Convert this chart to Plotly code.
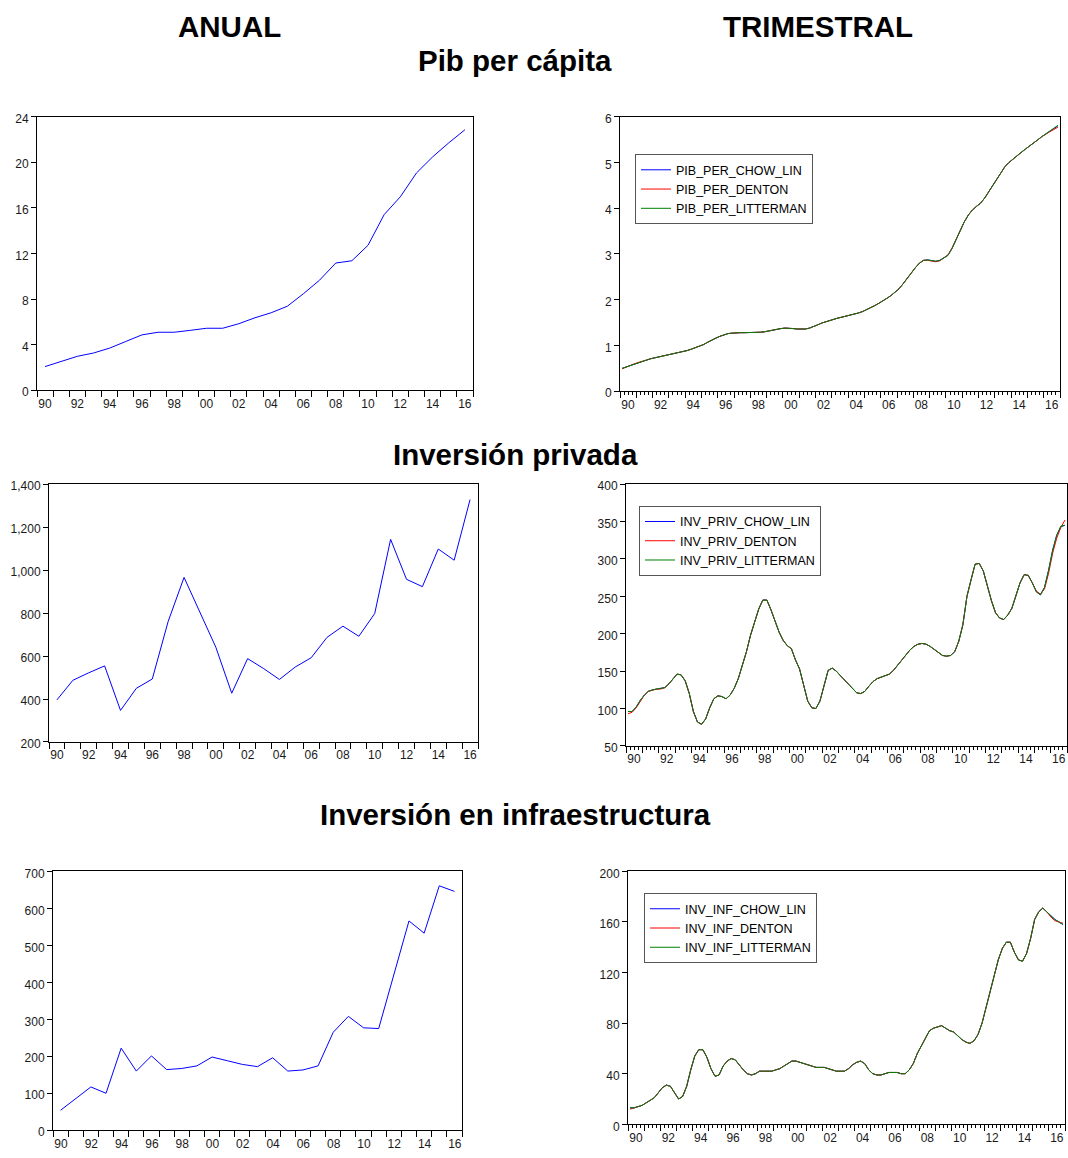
import plotly.graph_objects as go

# ---------------------------------------------------------------------------
# Data
# ---------------------------------------------------------------------------
YEARS = list(range(1990, 2017))
YEAR_LABELS = ["90", "92", "94", "96", "98", "00", "02", "04", "06", "08",
               "10", "12", "14", "16"]
LABELLED_YEARS = [1990, 1992, 1994, 1996, 1998, 2000, 2002, 2004, 2006,
                  2008, 2010, 2012, 2014, 2016]

# Annual series
PIB_ANUAL = [2.08, 2.54, 2.98, 3.27, 3.70, 4.28, 4.86, 5.09, 5.09, 5.26,
             5.44, 5.44, 5.84, 6.36, 6.80, 7.37, 8.47, 9.66, 11.16, 11.36,
             12.72, 15.41, 16.97, 19.06, 20.47, 21.70, 22.85]
INV_PRIV_ANUAL = [396, 487, 522, 554, 347, 450, 493, 761, 966, 800,
                  641, 427, 588, 542, 491, 549, 592, 687, 739, 692,
                  798, 1143, 957, 923, 1098, 1046, 1328]
INV_INF_ANUAL = [54, 85, 117, 100, 222, 160, 201, 164, 167, 174,
                 198, 188, 178, 172, 196, 160, 163, 174, 265, 308,
                 277, 275, 419, 566, 533, 661, 646]

# Quarterly series (1990Q1 - 2016Q4)
PIB_PER_CHOW_LIN = [
    0.50, 0.53, 0.57, 0.60, 0.63, 0.66, 0.69, 0.71, 0.73, 0.75, 0.77, 0.78,
    0.80, 0.82, 0.84, 0.86, 0.89, 0.92, 0.95, 0.98, 1.02, 1.07, 1.12, 1.16,
    1.20, 1.23, 1.26, 1.27, 1.28, 1.28, 1.28, 1.28, 1.28, 1.28, 1.29, 1.30,
    1.32, 1.34, 1.36, 1.37, 1.38, 1.38, 1.37, 1.36, 1.36, 1.36, 1.38, 1.41,
    1.45, 1.49, 1.52, 1.55, 1.58, 1.60, 1.62, 1.64, 1.66, 1.69, 1.71, 1.74,
    1.78, 1.82, 1.87, 1.92, 1.97, 2.03, 2.09, 2.16, 2.24, 2.35, 2.47, 2.60,
    2.70, 2.80, 2.86, 2.87, 2.85, 2.84, 2.86, 2.91, 2.97, 3.12, 3.32, 3.52,
    3.70, 3.85, 3.96, 4.04, 4.11, 4.22, 4.36, 4.51, 4.65, 4.79, 4.91, 5.00,
    5.08, 5.15, 5.22, 5.29, 5.35, 5.42, 5.49, 5.56, 5.62, 5.68, 5.74, 5.80]
PIB_PER_DENTON = [
    0.49, 0.53, 0.57, 0.60, 0.63, 0.66, 0.69, 0.71, 0.73, 0.75, 0.77, 0.78,
    0.80, 0.82, 0.84, 0.86, 0.89, 0.92, 0.95, 0.98, 1.02, 1.07, 1.12, 1.16,
    1.20, 1.23, 1.26, 1.27, 1.28, 1.28, 1.28, 1.28, 1.28, 1.28, 1.29, 1.30,
    1.32, 1.34, 1.36, 1.37, 1.38, 1.38, 1.37, 1.36, 1.36, 1.36, 1.38, 1.41,
    1.45, 1.49, 1.52, 1.55, 1.58, 1.60, 1.62, 1.64, 1.66, 1.69, 1.71, 1.74,
    1.78, 1.82, 1.87, 1.92, 1.97, 2.03, 2.09, 2.16, 2.24, 2.35, 2.47, 2.60,
    2.70, 2.80, 2.86, 2.86, 2.84, 2.83, 2.85, 2.91, 2.98, 3.13, 3.32, 3.52,
    3.70, 3.85, 3.96, 4.04, 4.11, 4.22, 4.36, 4.51, 4.65, 4.79, 4.91, 5.00,
    5.08, 5.15, 5.22, 5.29, 5.35, 5.42, 5.49, 5.56, 5.62, 5.67, 5.72, 5.77]
PIB_PER_LITTERMAN = [
    0.50, 0.53, 0.57, 0.60, 0.63, 0.66, 0.69, 0.71, 0.73, 0.75, 0.77, 0.78,
    0.80, 0.82, 0.84, 0.86, 0.89, 0.92, 0.95, 0.98, 1.02, 1.07, 1.12, 1.16,
    1.20, 1.23, 1.26, 1.27, 1.28, 1.28, 1.28, 1.28, 1.28, 1.28, 1.29, 1.30,
    1.32, 1.34, 1.36, 1.37, 1.38, 1.38, 1.37, 1.36, 1.36, 1.36, 1.38, 1.41,
    1.45, 1.49, 1.52, 1.55, 1.58, 1.60, 1.62, 1.64, 1.66, 1.69, 1.71, 1.74,
    1.78, 1.82, 1.87, 1.92, 1.97, 2.03, 2.09, 2.16, 2.24, 2.35, 2.47, 2.60,
    2.70, 2.80, 2.86, 2.87, 2.85, 2.84, 2.86, 2.91, 2.97, 3.12, 3.32, 3.52,
    3.70, 3.85, 3.96, 4.04, 4.11, 4.22, 4.36, 4.51, 4.65, 4.79, 4.91, 5.00,
    5.08, 5.15, 5.22, 5.29, 5.35, 5.42, 5.49, 5.56, 5.62, 5.68, 5.75, 5.81]

INV_PRIV_CHOW_LIN = [
    96, 96, 102, 111, 118, 123, 125, 126, 126, 128, 133, 140,
    146, 145, 137, 120, 96, 82, 79, 86, 101, 113, 117, 116,
    113, 118, 127, 140, 158, 176, 198, 214, 233, 245, 245, 232,
    216, 202, 191, 184, 180, 165, 153, 130, 110, 101, 100, 110,
    132, 151, 154, 150, 144, 138, 132, 126, 121, 120, 123, 130,
    136, 140, 142, 143, 146, 151, 158, 165, 172, 178, 183, 186,
    187, 186, 183, 179, 174, 171, 170, 171, 176, 190, 212, 250,
    272, 293, 294, 284, 264, 244, 228, 221, 219, 225, 234, 252,
    268, 279, 278, 268, 256, 252, 262, 285, 312, 332, 343, 345]
INV_PRIV_DENTON = [
    93, 95, 101, 110, 118, 123, 125, 126, 126, 128, 133, 140,
    146, 145, 137, 120, 96, 82, 79, 86, 101, 113, 117, 116,
    113, 118, 127, 140, 158, 176, 198, 214, 233, 245, 245, 232,
    216, 202, 191, 184, 180, 165, 153, 130, 110, 101, 100, 110,
    132, 151, 154, 150, 144, 138, 132, 126, 121, 120, 123, 130,
    136, 140, 142, 143, 146, 151, 158, 165, 172, 178, 183, 186,
    187, 186, 183, 179, 174, 171, 170, 171, 176, 190, 212, 250,
    272, 293, 294, 284, 264, 244, 228, 221, 219, 225, 234, 252,
    268, 279, 278, 268, 257, 253, 260, 281, 308, 328, 342, 352]
INV_PRIV_LITTERMAN = [
    96, 96, 102, 111, 118, 123, 125, 126, 126, 128, 133, 140,
    146, 145, 137, 120, 96, 82, 79, 86, 101, 113, 117, 116,
    113, 118, 127, 140, 158, 176, 198, 214, 233, 245, 245, 232,
    216, 202, 191, 184, 180, 165, 153, 130, 110, 101, 100, 110,
    132, 151, 154, 150, 144, 138, 132, 126, 121, 120, 123, 130,
    136, 140, 142, 143, 146, 151, 158, 165, 172, 178, 183, 186,
    187, 186, 183, 179, 174, 171, 170, 171, 176, 190, 212, 250,
    272, 293, 294, 284, 264, 244, 228, 221, 219, 225, 234, 252,
    268, 279, 278, 268, 256, 252, 262, 285, 312, 332, 344, 345]

INV_INF_CHOW_LIN = [
    13, 13, 14, 15, 17, 19, 21, 25, 29, 31, 30, 25,
    20, 22, 30, 43, 54, 59, 59, 53, 44, 38, 39, 46,
    50, 52, 51, 47, 43, 40, 39, 40, 42, 42, 42, 42,
    43, 44, 46, 48, 50, 50, 49, 48, 47, 46, 45, 45,
    45, 44, 43, 42, 42, 42, 44, 47, 49, 50, 48, 43,
    40, 39, 39, 40, 41, 41, 41, 40, 40, 43, 48, 56,
    62, 69, 74, 76, 77, 78, 76, 74, 73, 70, 67, 65,
    64, 66, 71, 80, 92, 104, 118, 130, 139, 144, 144, 136,
    130, 129, 135, 147, 162, 168, 171, 168, 165, 162, 160, 158]
INV_INF_DENTON = [
    12, 13, 14, 15, 17, 19, 21, 25, 29, 31, 30, 25,
    20, 22, 30, 43, 54, 59, 59, 53, 44, 38, 39, 46,
    50, 52, 51, 47, 43, 40, 39, 40, 42, 42, 42, 42,
    43, 44, 46, 48, 50, 50, 49, 48, 47, 46, 45, 45,
    45, 44, 43, 42, 42, 42, 44, 47, 49, 50, 48, 43,
    40, 39, 39, 40, 41, 41, 41, 40, 40, 43, 48, 56,
    62, 69, 74, 76, 77, 78, 76, 74, 73, 70, 67, 65,
    64, 66, 71, 80, 92, 104, 118, 130, 139, 144, 144, 136,
    130, 129, 135, 147, 162, 168, 171, 168, 164, 161, 160, 159]
INV_INF_LITTERMAN = [
    13, 13, 14, 15, 17, 19, 21, 25, 29, 31, 30, 25,
    20, 22, 30, 43, 54, 59, 59, 53, 44, 38, 39, 46,
    50, 52, 51, 47, 43, 40, 39, 40, 42, 42, 42, 42,
    43, 44, 46, 48, 50, 50, 49, 48, 47, 46, 45, 45,
    45, 44, 43, 42, 42, 42, 44, 47, 49, 50, 48, 43,
    40, 39, 39, 40, 41, 41, 41, 40, 40, 43, 48, 56,
    62, 69, 74, 76, 77, 78, 76, 74, 73, 70, 67, 65,
    64, 66, 71, 80, 92, 104, 118, 130, 139, 144, 144, 136,
    130, 129, 135, 147, 162, 168, 171, 168, 165, 162, 160, 158]

PIB_ANUAL_TICKS = [0, 4, 8, 12, 16, 20, 24]
PIB_TRIM_TICKS = [0, 1, 2, 3, 4, 5, 6]
INV_PRIV_ANUAL_TICKS = [200, 400, 600, 800, 1000, 1200, 1400]
INV_PRIV_TRIM_TICKS = [50, 100, 150, 200, 250, 300, 350, 400]
INV_INF_ANUAL_TICKS = [0, 100, 200, 300, 400, 500, 600, 700]
INV_INF_TRIM_TICKS = [0, 40, 80, 120, 160, 200]

# ---------------------------------------------------------------------------
# Layout helpers
# ---------------------------------------------------------------------------
W, H = 1068, 1158
FONT = "Arial, Liberation Sans, sans-serif"
BLUE, RED, GREEN = "#0000FF", "#FF0000", "#008000"

# quarter mid-points expressed in fractional years
Q_X = [y + (q - 0.5) / 4 for y in YEARS for q in range(1, 5)]

# plot boxes in pixels: (left, top, right, bottom)
BOXES = {
    1: (37, 113, 473, 390),
    2: (620, 113, 1060, 391),
    3: (49, 485, 478, 746),
    4: (626, 485, 1067, 750),
    5: (53, 877, 462, 1139),
    6: (628, 877, 1065, 1133),
}


def dom(box):
    l, t, r, b = box
    return [l / W, r / W], [1 - b / H, 1 - t / H]


def x_axis(n, quarterly):
    xd, _ = dom(BOXES[n])
    width = BOXES[n][2] - BOXES[n][0]
    start = 1990.0 if quarterly else 1989.5
    bounds = [start + k for k in range(len(YEARS) + 1)]
    texts = []
    for k in range(len(bounds)):
        yr = 1990 + k
        texts.append(YEAR_LABELS[LABELLED_YEARS.index(yr)]
                     if yr in LABELLED_YEARS else "")
    ax = dict(
        domain=xd, range=[start, start + len(YEARS)], anchor=f"y{n}",
        tickmode="array", tickvals=bounds, ticktext=texts,
        ticks="outside", ticklen=6, tickwidth=1, tickcolor="#000",
        ticklabelshift=int(round(width / len(YEARS) / 2)),
        ticklabelstandoff=-4,
        tickfont=dict(family=FONT, size=12, color="#1a1a1a"),
        showline=True, linecolor="#000", linewidth=1, mirror=True,
        showgrid=False, zeroline=False, fixedrange=True,
    )
    if quarterly:
        ax["minor"] = dict(tickmode="linear", tick0=1990, dtick=0.25,
                           ticks="outside", ticklen=3, tickwidth=1,
                           tickcolor="#000", showgrid=False)
    return ax


def y_axis(n, ticks, fmt=None):
    _, yd = dom(BOXES[n])
    ax = dict(
        domain=yd, range=[ticks[0], ticks[-1]], anchor=f"x{n}",
        tickmode="array", tickvals=ticks,
        ticks="outside", ticklen=5, tickwidth=1, tickcolor="#000",
        ticklabelshift=2,
        tickfont=dict(family=FONT, size=12, color="#1a1a1a"),
        showline=True, linecolor="#000", linewidth=1, mirror=True,
        showgrid=False, zeroline=False, fixedrange=True,
    )
    if fmt:
        ax["tickformat"] = fmt
    return ax


fig = go.Figure()

# annual panels
for n, vals in ((1, PIB_ANUAL), (3, INV_PRIV_ANUAL), (5, INV_INF_ANUAL)):
    fig.add_trace(go.Scatter(
        x=YEARS, y=vals, mode="lines", line=dict(color=BLUE, width=1),
        xaxis=f"x{n}", yaxis=f"y{n}", showlegend=False))

# quarterly panels with their own legends
QUARTERLY = [
    (2, "legend", [("PIB_PER_CHOW_LIN", PIB_PER_CHOW_LIN, BLUE),
                   ("PIB_PER_DENTON", PIB_PER_DENTON, RED),
                   ("PIB_PER_LITTERMAN", PIB_PER_LITTERMAN, GREEN)]),
    (4, "legend2", [("INV_PRIV_CHOW_LIN", INV_PRIV_CHOW_LIN, BLUE),
                    ("INV_PRIV_DENTON", INV_PRIV_DENTON, RED),
                    ("INV_PRIV_LITTERMAN", INV_PRIV_LITTERMAN, GREEN)]),
    (6, "legend3", [("INV_INF_CHOW_LIN", INV_INF_CHOW_LIN, BLUE),
                    ("INV_INF_DENTON", INV_INF_DENTON, RED),
                    ("INV_INF_LITTERMAN", INV_INF_LITTERMAN, GREEN)]),
]
for n, leg, series in QUARTERLY:
    for name, vals, color in series:
        fig.add_trace(go.Scatter(
            x=Q_X, y=vals, mode="lines", name=name,
            line=dict(color=color, width=1),
            xaxis=f"x{n}", yaxis=f"y{n}", legend=leg))

layout = dict(
    width=W, height=H, margin=dict(l=0, r=0, t=0, b=0),
    paper_bgcolor="#fff", plot_bgcolor="#fff",
    font=dict(family=FONT, color="#000"),
)
layout["xaxis"] = x_axis(1, False)
layout["yaxis"] = y_axis(1, PIB_ANUAL_TICKS)
layout["xaxis2"] = x_axis(2, True)
layout["yaxis2"] = y_axis(2, PIB_TRIM_TICKS)
layout["xaxis3"] = x_axis(3, False)
layout["yaxis3"] = y_axis(3, INV_PRIV_ANUAL_TICKS, ",d")
layout["xaxis4"] = x_axis(4, True)
layout["yaxis4"] = y_axis(4, INV_PRIV_TRIM_TICKS)
layout["xaxis5"] = x_axis(5, False)
layout["yaxis5"] = y_axis(5, INV_INF_ANUAL_TICKS)
layout["xaxis6"] = x_axis(6, True)
layout["yaxis6"] = y_axis(6, INV_INF_TRIM_TICKS)
layout["xaxis"]["anchor"] = "y"
layout["yaxis"]["anchor"] = "x"


def legend_at(px, py):
    return dict(x=px / W, y=1 - py / H, xanchor="left", yanchor="top",
                bgcolor="#fff", bordercolor="#555", borderwidth=1,
                font=dict(family=FONT, size=12.5, color="#000"),
                tracegroupgap=0, itemclick=False, itemdoubleclick=False)


layout["legend"] = legend_at(635, 151)
layout["legend2"] = legend_at(639, 507)
layout["legend3"] = legend_at(644, 899)

TITLE_FONT = dict(family=FONT, size=29.5, color="#000")
titles = [
    ("<b>ANUAL</b>", 229, 22),
    ("<b>TRIMESTRAL</b>", 818, 22),
    ("<b>Pib per cápita</b>", 515, 56),
    ("<b>Inversión privada</b>", 515, 455),
    ("<b>Inversión en infraestructura</b>", 515, 819),
]
layout["annotations"] = [
    dict(text=t, x=x / W, y=1 - y / H, xref="paper", yref="paper",
         xanchor="center", yanchor="middle", showarrow=False, font=TITLE_FONT)
    for t, x, y in titles
]

fig.update_layout(**layout)
fig.write_html("out.html")
